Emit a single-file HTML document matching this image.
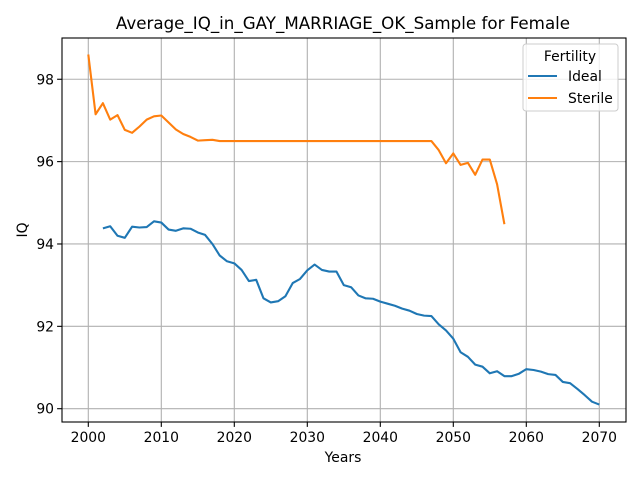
<!DOCTYPE html>
<html><head><meta charset="utf-8"><style>
body{margin:0;background:#fff;}
svg text{font-family:"DejaVu Sans","Liberation Sans",sans-serif;fill:#000;}
</style></head><body>
<svg id="chart" width="640" height="480" xmlns="http://www.w3.org/2000/svg">
<rect width="640" height="480" fill="#fff"/>
<text x="343" y="29" font-size="16.7" text-anchor="middle">Average_IQ_in_GAY_MARRIAGE_OK_Sample for Female</text>
<g id="grid"></g><g id="series"></g><g id="axes"></g>
<text x="343" y="462" font-size="13.9" text-anchor="middle">Years</text>
<text x="27" y="230" font-size="13.9" text-anchor="middle" transform="rotate(-90 27 230)">IQ</text>
<g>
<rect x="523" y="44" width="95" height="67" rx="3" fill="#fff" fill-opacity="0.8" stroke="#ccc"/>
<text x="570" y="61" font-size="13.9" text-anchor="middle">Fertility</text>
<line x1="528" y1="76" x2="557" y2="76" stroke="#1f77b4" stroke-width="2.1"/>
<text x="568" y="81" font-size="13.9">Ideal</text>
<line x1="528" y1="98" x2="557" y2="98" stroke="#ff7f0e" stroke-width="2.1"/>
<text x="568" y="103" font-size="13.9">Sterile</text>
</g>
</svg>
<script>
const idealYears=[2002,2003,2004,2005,2006,2007,2008,2009,2010,2011,2012,2013,2014,2015,2016,2017,2018,2019,2020,2021,2022,2023,2024,2025,2026,2027,2028,2029,2030,2031,2032,2033,2034,2035,2036,2037,2038,2039,2040,2041,2042,2043,2044,2045,2046,2047,2048,2049,2050,2051,2052,2053,2054,2055,2056,2057,2058,2059,2060,2061,2062,2063,2064,2065,2066,2067,2068,2069,2070];
const idealValues=[94.38,94.43,94.2,94.15,94.42,94.4,94.41,94.55,94.52,94.35,94.32,94.38,94.37,94.28,94.22,94.0,93.72,93.58,93.53,93.37,93.1,93.13,92.68,92.58,92.61,92.73,93.05,93.15,93.36,93.5,93.37,93.33,93.33,93.0,92.95,92.75,92.68,92.67,92.6,92.55,92.5,92.43,92.38,92.3,92.26,92.25,92.05,91.9,91.7,91.37,91.26,91.07,91.02,90.86,90.91,90.79,90.79,90.85,90.96,90.94,90.9,90.84,90.82,90.65,90.62,90.48,90.33,90.17,90.1];
const sterileYears=[2000,2001,2002,2003,2004,2005,2006,2007,2008,2009,2010,2011,2012,2013,2014,2015,2016,2017,2018,2019,2020,2025,2030,2035,2040,2045,2047,2048,2049,2050,2051,2052,2053,2054,2055,2056,2057];
const sterileValues=[98.6,97.15,97.42,97.02,97.13,96.77,96.7,96.85,97.02,97.1,97.12,96.95,96.78,96.67,96.6,96.51,96.52,96.53,96.5,96.5,96.5,96.5,96.5,96.5,96.5,96.5,96.5,96.28,95.96,96.2,95.92,95.97,95.68,96.05,96.05,95.45,94.48];
const xTicks=[2000,2010,2020,2030,2040,2050,2060,2070];
const yTicks=[90,92,94,96,98];
const L=62,R=626,T=38,B=422;
const X=v=>88.3+(v-2000)*7.3;
const Y=v=>408.7-(v-90)*41.18;
const NS="http://www.w3.org/2000/svg";
function mk(p,tag,attrs){const e=document.createElementNS(NS,tag);for(const k in attrs)e.setAttribute(k,attrs[k]);p.appendChild(e);return e;}
const grid=document.getElementById('grid'),axes=document.getElementById('axes'),ser=document.getElementById('series');
xTicks.forEach(t=>{
 const g=mk(grid,'line',{x1:X(t),x2:X(t),y1:T,y2:B,stroke:'#b0b0b0','stroke-width':1.1});
 
 
 mk(axes,'line',{x1:X(t),x2:X(t),y1:B,y2:B+4.9,stroke:'#000','stroke-width':1.1});
 const tx=mk(axes,'text',{x:X(t),y:B+20,'font-size':13.9,'text-anchor':'middle'});tx.textContent=t;
 
 
});
yTicks.forEach(t=>{
 const g=mk(grid,'line',{x1:L,x2:R,y1:Y(t),y2:Y(t),stroke:'#b0b0b0','stroke-width':1.1});
 
 
 mk(axes,'line',{x1:L-4.9,x2:L,y1:Y(t),y2:Y(t),stroke:'#000','stroke-width':1.1});
 const tx=mk(axes,'text',{x:L-8,y:Y(t)+5,'font-size':13.9,'text-anchor':'end'});tx.textContent=t;
 
 
});
const fr=mk(axes,'rect',{x:L,y:T,width:R-L,height:B-T,fill:'none',stroke:'#000','stroke-width':1.1});


function line(xs,ys,c,name){
 const p=mk(ser,'polyline',{points:xs.map((x,i)=>X(x)+','+Y(ys[i])).join(' '),fill:'none',stroke:c,'stroke-width':2.1,'stroke-linejoin':'round'});
 
 
}
line(idealYears,idealValues,'#1f77b4','ideal-line');
line(sterileYears,sterileValues,'#ff7f0e','sterile-line');
</script>
</body></html>
